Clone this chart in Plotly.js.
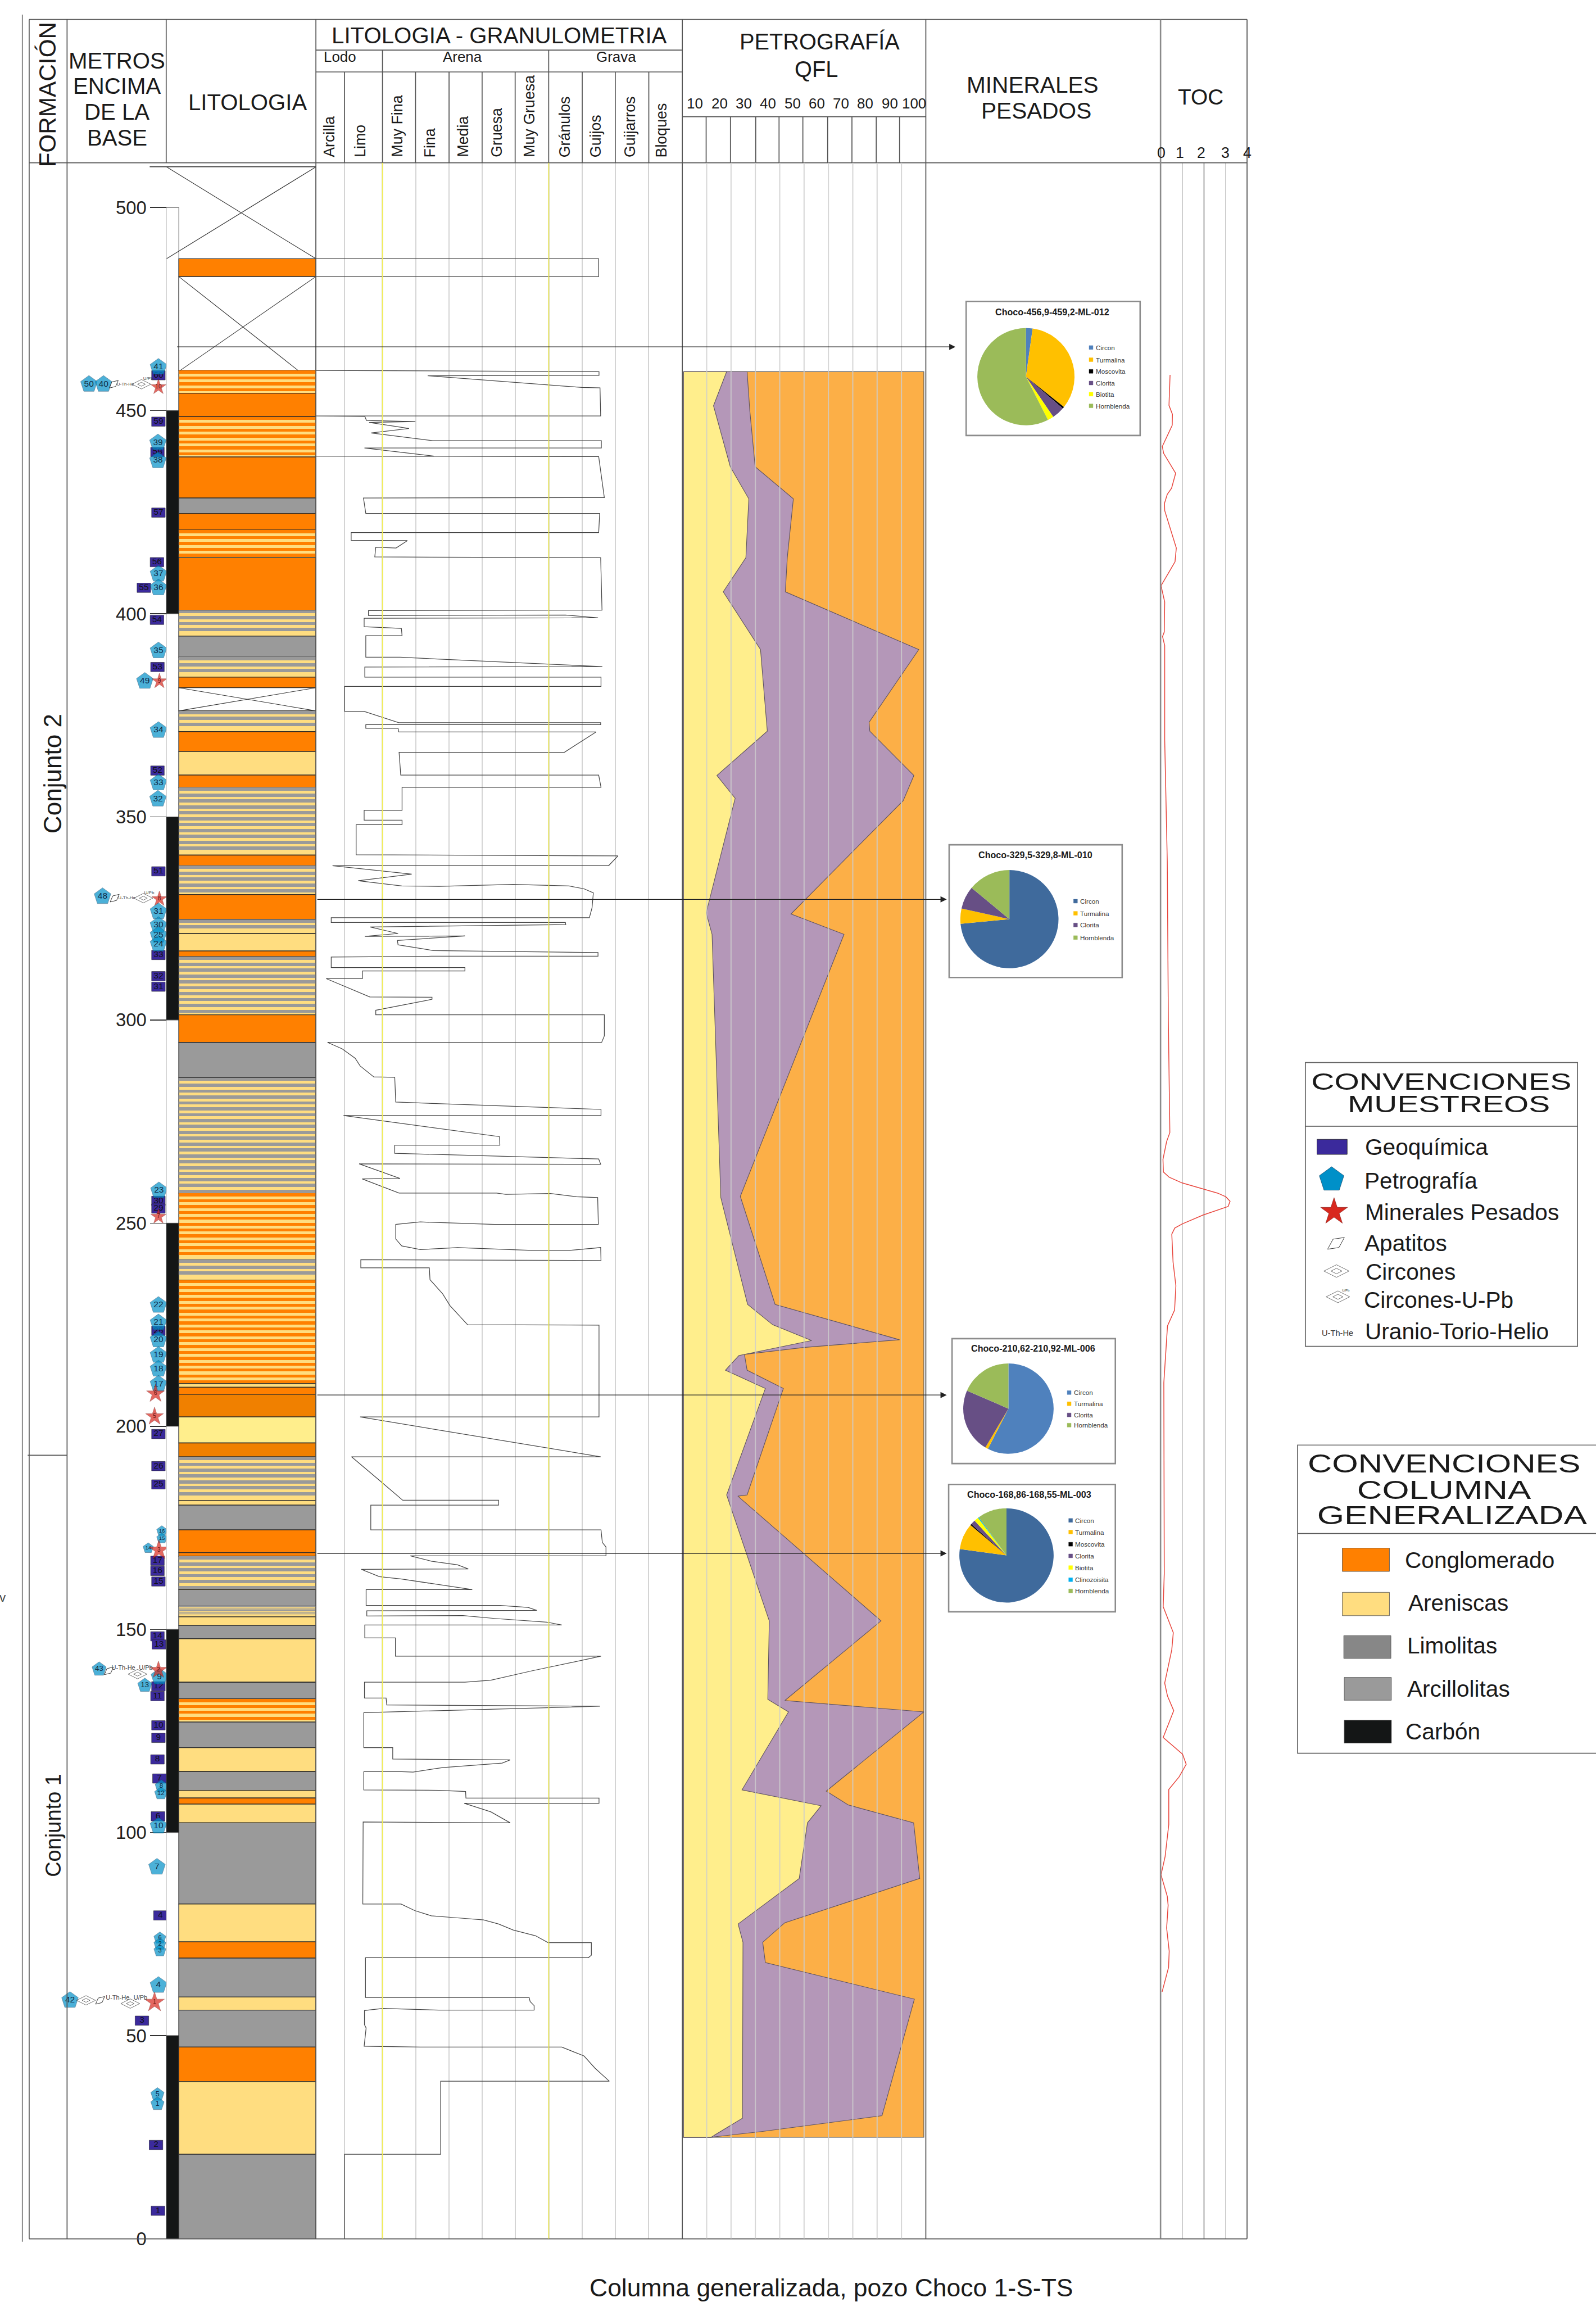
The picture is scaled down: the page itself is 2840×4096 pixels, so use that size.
<!DOCTYPE html>
<html><head><meta charset="utf-8">
<script src="https://cdn.plot.ly/plotly-3.0.1.min.js"></script>
<style>html,body{margin:0;padding:0;background:#fff}#g{width:2840px;height:4096px}</style>
</head><body><div id="g"></div>
<script>
// ---------- DATA ----------
const depthTicks=[0,50,100,150,200,250,300,350,400,450,500];
const bedTop =[487.4,483,459.9,454.3,448.5,438.6,428.5,424.7,420.6,413.8,400.9,394.5,389.3,384.4,381.8,376.1,371,366.1,360.3,357.2,340.6,338,330.9,324.8,321.3,317,315.6,301.3,294.5,285.8,257.4,241,236,210.5,209.6,207.9,202.3,195.9,192.5,181.7,180.6,174.5,168.9,168,159.8,155.7,153.1,151,147.7,137,132.9,127.2,120.9,115,110.4,108.5,107,102.4,82.4,73.1,69.1,59.5,56.3,47.2,38.7,20.8];
const bedBase=[483,459.9,454.3,448.5,438.6,428.5,424.7,420.6,413.8,400.9,394.5,389.3,384.4,381.8,376.1,371,366.1,360.3,357.2,340.6,338,330.9,324.8,321.3,317,315.6,301.3,294.5,285.8,257.4,241,236,210.5,209.6,207.9,202.3,195.9,192.5,181.7,180.6,174.5,168.9,168,159.8,155.7,153.1,151,147.7,137,132.9,127.2,120.9,115,110.4,108.5,107,102.4,82.4,73.1,69.1,59.5,56.3,47.2,38.7,20.8,0];
const bedKind=['O','X','OY','O','OY','O','G','O','OY','O','GY','G','GY','O','X','GY','O','Y','O','GY','O','GY','O','GY','Y','O','GY','O','G','GY','OY','GY','OY','Y','O','D','P','D','GY','Y','G','O','O','GY','G','GF','Y','G','Y','G','OY','G','Y','G','Y','O','Y','G','Y','O','G','Y','G','O','Y','G'];
const coalBandTop =[500,450,400,350,300,250,200,150,100,50];
const coalBandKind=['w','k','w','k','w','k','w','k','w','k'];

const grainClasses=['Arcilla','Limo','Muy Fina','Fina','Media','Gruesa','Muy Gruesa','Gránulos','Guijos','Guijarros','Bloques'];
const grainGrid=[0.86,2,3,4,5,6,7,8,9,10];
const grainBoxU=[0,8.5,8.5,0];
const grainBoxDepth=[487.4,487.4,483,483];
const grainU=[0,8.51,8.51,3.36,8,8.54,8.56,0,1.47,1.52,2.99,1.6,2.8,1.66,3.51,8.58,8.58,1.46,3.55,0,8.5,8.67,1.43,1.5,8.53,8.5,1.06,1.06,2.75,2.41,1.8,1.77,8.56,8.6,1.58,1.58,7.5,8.48,1.45,1.45,2.57,2.59,1.5,1.5,2.53,8.61,1.47,1.47,8.57,8.57,.86,.86,1.44,2.49,8.56,8.56,1.5,1.5,2.47,2.49,8.42,7.47,2.5,2.55,8.5,8.57,2.59,2.59,1.45,1.45,2.59,2.59,1.21,1.21,9.08,8.8,.5,2.88,
1.27,2.58,3.7,5.93,7.61,8.06,8.34,8.3,8.22,.46,.46,7.5,7.51,1.63,2.47,1.47,4.48,2.45,2.47,3.53,8.48,8.48,3.47,.46,.46,4.48,4.48,1.4,1.4,.31,1.62,3.49,3.49,1.8,1.8,8.67,8.67,8.59,.35,.79,1.18,1.33,1.74,2.37,2.4,8.57,8.57,.83,5.52,5.53,2.37,2.37,8.5,8.56,1.3,2.53,1.39,2.5,5.43,5.71,7.05,7.83,8.47,8.49,5.37,3.14,2.4,2.4,2.58,3.14,4.26,6.49,7.61,8.56,8.57,1.35,1.35,3.41,3.43,3.81,4.03,4.56,8.51,
8.51,1.33,8.56,1.07,1.91,2.3,2.61,5.49,5.49,1.65,1.65,8.57,8.61,8.72,8.72,2.84,3.47,4.26,4.58,1.36,1.91,2.58,4.7,1.51,1.51,5.54,6.38,6.64,1.53,1.53,4.42,5.37,6.94,7.39,1.47,1.47,2.39,2.39,8.57,6.49,5.26,4.48,1.46,1.46,2.11,2.13,8.54,1.44,1.44,2.31,2.31,5.84,5.6,3.81,2.92,2.58,1.44,1.44,3.7,4.5,4.51,8.51,8.51,4.46,5.26,5.84,1.42,
1.41,2.56,2.97,3.47,4.26,5.04,5.49,5.93,6.6,6.98,8.28,8.28,8.19,1.49,1.49,6.41,6.44,6.56,6.56,3.7,2.02,1.46,1.46,1.51,1.45,3.14,7.39,8.06,8.39,8.82,3.75,3.75,.86,.86];
const grainDepth=[459.9,459.6,458.7,458.6,455.7,455.6,448.7,448.7,448.6,447.6,447.3,447.1,445.6,444.5,442.6,442.6,440.8,440.8,438.8,438.8,438.7,428.6,428.5,424.7,424.7,420,420,418.1,418,416.2,416.4,414,413.8,400.9,400.8,399.6,399.7,399,398.9,396.8,396.4,394.6,394.6,389.3,389.3,387,386.9,384.4,384.4,382.1,382.1,376,376,373.2,373.2,372.7,372.7,371.8,371.8,370.9,370.9,365.9,365.9,360.3,360.3,357.3,357.3,351.6,351.6,349.2,349.2,348.1,348.1,340.7,340.4,338,338,335.9,
334.3,333,332.9,333.4,333,332.3,331.3,327.6,325.2,325.2,324,324,323.5,322.9,321.3,320.6,320.7,319.6,318.5,317.1,316.6,315.7,315.7,315.5,312.9,312.9,312.1,312.1,310.2,310.2,305.7,305.6,305.1,302.4,301.3,301.3,296.1,294.5,294.5,292.9,290.6,288.7,286,285.9,279.8,278,276.5,276.5,271.3,269.2,269.2,267.2,265.8,264.5,264.6,261,260.9,257.4,257.4,257.1,257.3,256.5,256.3,249.7,249.7,250.3,249.7,246.1,244.4,243.5,244,243.3,243.3,244,240.8,241,239,239,236.1,232.6,229.7,225,224.9,
202.3,202.3,192.5,192.5,186.7,184,181.8,181.8,180.6,180.6,174.5,174.5,171.4,170.3,168.1,168.1,166.8,165.9,164.9,164.8,163,162.4,159.8,159.8,155.9,155.9,155.4,154.7,154.6,153.3,153.4,152.7,151.8,151.1,151.1,147.9,147.9,143.4,143.4,139.8,137.5,137,137,133.1,133.1,131.4,131.1,129.5,120.9,120.9,118.1,117.9,117.1,116,114.9,115,115,110.5,110.4,110.1,108.5,108.5,107.2,107.2,105.1,102.4,102.6,
82.4,82.4,80.8,79.5,79,78.5,77.5,76,74.6,72.9,72.9,69.8,69.2,69.2,59.4,59.4,58.4,57.4,56.3,56.3,56.7,56.2,52.7,51.9,47.4,47.2,47.2,45,42,38.8,38.8,20.8,20.8,0];

const qflTicks=[10,20,30,40,50,60,70,80,90,100];
const quartzPct=[18.2,12.8,19.7,27.3,26.1,16.8,32.1,34.9,14.2,21.7,9.8,12.2,15.8,26.8,37.1,53.1,23.2,17.7,34.1,18.2,35.7,35.1,43.6,24.5,57,51.4,48,22.9,24.9,24.7,11.8];
const quartzDepth=[459.6,451.2,436.2,428.3,413.8,405.4,391.2,371.1,360.2,354.6,326.4,321.1,256.3,230,225,221.1,217.4,213.8,209.3,183.1,152.1,132.8,129.7,110.5,106.6,102.4,88.7,77.5,73,29.7,25];
const feldsparPct=[26.6,27.7,29.9,45.6,43.1,42.3,97.1,76.7,77,95.1,90.7,44.6,66.4,23.8,38.1,89.2,49.8,25.5,26.6,41.5,26.6,22.8,81.6,42.1,99.2,59.1,68.1,95,97.5,42.1,33,34.1,95.3,82,32.5,11.8];
const feldsparDepth=[459.6,450.1,436.2,428.3,413.8,405.4,391.2,373.3,371.1,360.2,354,326.1,321.1,256.6,230,221.3,219.4,217.7,213.8,209.3,183.1,182.8,152.1,132.5,129.7,110.2,106.8,102.4,88.7,77.8,73,68,59,30.3,26.4,25];
const qflDepthRange=[459.6,25];

const tocTicks=[0,1,2,3,4];
const tocValue=[.42,.37,.53,.52,.06,.12,.68,.49,.29,.16,.17,.71,.65,0,.17,.15,.07,.17,.17,.29,.34,.41,.26,.09,.11,.38,.98,1.95,2.63,3.01,3.21,3.12,1.95,.98,.64,.5,.56,.69,.63,.3,.13,.15,.1,.57,.5,.17,.3,.59,.1,1,1.17,.84,.36,.36,.19,0,.29,.33,.26,.38,.35,.05];
const tocDepth=[458.8,451.3,449.1,446.4,441.2,439.5,434.6,430.9,429.4,427.2,425.4,416.2,412.8,406.9,402.9,395.5,394.4,392.2,369,339,299.8,272.3,270.1,265.7,262.6,261.3,259.9,258.4,257.4,256.5,255.4,254.1,252,249.8,248.8,247.3,240.4,234.6,228.6,224.7,210.7,163.7,155.6,149.2,145,136.8,133.6,130,123.4,119.3,116.8,113.7,110.6,102,94.1,89.6,84.3,82.1,76.5,70.8,66.8,60.8];

const petroLabel=['41','50','40','39','38','37','36','35','49','34','33','32','48','31','30','25','24','23','22','21','20','19','18','17','16','15','14','43','9','13','8','12','10','7','6','2','3','4','42','5','1'];
const petroDepth=[460.7,456.5,456.5,442.1,437.7,409.8,406.4,390.9,383.4,371.3,358.4,354.4,330.4,326.7,323.3,320.9,318.7,258,229.8,225.5,221.3,217.5,214.1,210.4,174.2,172.4,170,140.2,138.3,136.2,111.4,109.6,101.6,91.5,74,72.5,70.9,62.4,58.7,35.5,33.2];
const petroLane=[326,183,213,325,325,326,326,326,298,326,326,325,211,326,326,326,326,327,326,326,326,326,326,326,333,333,305,204,328,298,332,331,326,323,329,329,329,326,144,324,324];
const petroScale=[1,1,1,1,1,1,1,1,1,1,1,1,1,1,1,1,1,1,1,1,1,1,1,1,.62,.62,.62,.85,1,.85,.75,.75,1,1,.72,.72,.72,1,1,.8,.8];

const geoLabel=['60','59','58','57','56','55','54','53','52','51','33','32','31','30','29','28','27','26','25','17','16','15','14','13','12','11','10','9','8','7','6','4','3','2','1'];
const geoDepth=[458.7,447.3,439.8,424.9,412.7,406.4,398.5,386.9,361.4,336.6,316,310.8,308.2,255.5,253.6,223.5,198.1,190.2,185.7,166.9,164.4,161.8,148.3,146.3,136,133.6,126.4,123.3,118,113.3,104,79.6,53.7,23.1,6.9];
const geoLane=[326,326,324,326,323,296,323,324,324,326,326,326,326,326,326,326,326,326,326,324,324,326,324,327,326,324,326,326,324,328,325,330,292,321,325];

const starLabel=['10','9','8','7','6','5','3','2','1'];
const starDepth=[455.8,383.4,329.8,251.6,208,202.4,169.5,140,58.2];
const starLane=[326,328,328,326,320,318,327,326,318];
const starScale=[.85,.85,.85,.85,1,1,1.1,.95,1.1];

const zirconDepth=[456.5,330,139,58.7,57.9];
const zirconLane=[291,295,283,177,268];
const apatiteDepth=[456.5,330,139.8,58.7];
const apatiteLane=[234,236,224,206];
const dateLabel=['U-Th-He','U/Pb','U-Th-He','U/Pb','U-Th-He','U/Pb','U-Th-He','U/Pb'];
const dateDepth=[456.4,457.8,330,331.2,140.4,140.5,59.2,59.3];
const dateLane=[258,305,261,307,254,300,242,289];

const pieTitles=['Choco-456,9-459,2-ML-012','Choco-329,5-329,8-ML-010','Choco-210,62-210,92-ML-006','Choco-168,86-168,55-ML-003'];
const pieNames=[['Circon','Turmalina','Moscovita','Clorita','Biotita','Hornblenda'],['Circon','Turmalina','Clorita','Hornblenda'],['Circon','Turmalina','Clorita','Hornblenda'],['Circon','Turmalina','Moscovita','Clorita','Biotita','Clinozoisita','Hornblenda']];
const pieValues=[[2.2,33.5,.6,4.2,2,57.5],[73.5,5,7.5,14],[57.5,1,23,18.5],[77,9,.4,1.6,1.5,.3,10]];
const pieColors={Turmalina:'#ffc000',Moscovita:'#000000',Clorita:'#674f85',Biotita:'#ffff00',Clinozoisita:'#00b0f0',Hornblenda:'#9bbb59'};
const pieCircon=['#4f81bd','#3f6a9c','#4f81bd','#3f6a9c'];
const arrowDepth=[465.7,329.7,207.7,168.7];

// ---------- GEOMETRY OF THE SHEET (reference pixels) ----------
const RW=3284,RH=4736,S=0.864,FONT='"Liberation Sans",Arial,sans-serif';
const X=v=>v/RW, Y=v=>1-v/RH;
const dom=(a,b)=>[a/RW,b/RW];
const shapes=[],ann=[];
function line(x0,y0,x1,y1,color,w,layer){shapes.push({type:'line',xref:'paper',yref:'paper',x0:X(x0),x1:X(x1),y0:Y(y0),y1:Y(y1),line:{color:color||'#555',width:(w||2)*S},layer:layer||'above'});}
function rect(x0,y0,x1,y1,fill,lc,w){shapes.push({type:'rect',xref:'paper',yref:'paper',x0:X(x0),x1:X(x1),y0:Y(y0),y1:Y(y1),fillcolor:fill||'rgba(0,0,0,0)',line:{color:lc||'#888',width:(w||2)*S},layer:'below'});}
function text(t,x,y,size,o){o=o||{};ann.push(Object.assign({xref:'paper',yref:'paper',x:X(x),y:Y(y),text:t,showarrow:false,xanchor:o.anchor||'center',yanchor:'middle',textangle:o.angle||0,font:{family:FONT,size:size*S,color:o.color||'#1a1a1a',weight:o.bold?700:400}}));}

// frame
[[40,60,2566],[335,60,2566],[4606,60,2566],[103,650,1403],[148,650,1403],[240,1404,1905]].forEach(a=>line(a[1],a[0],a[2],a[0]));
[[60,40,4606],[138,40,4606],[342,40,335],[650,40,4606],[1404,40,4606],[1905,40,4606],[2566,40,4606]].forEach(a=>line(a[0],a[1],a[0],a[2]));
line(2388,40,2388,4606,'#8a8a8a',3);
line(46,30,46,4612,'#777',2);
line(57,2994,138,2994);
[787,1129].forEach(x=>line(x,103,x,335));
[709,855,924,992,1060,1198,1266,1335].forEach(x=>line(x,148,x,335));
[1453,1503,1555,1603,1652,1703,1753,1803,1851].forEach(x=>line(x,240,x,335));
line(308,343,650,343,'#444',2);

// header
text('FORMACIÓN',98,194,49,{angle:-90});
['METROS','ENCIMA','DE LA','BASE'].forEach((t,i)=>text(t,241,125+53*i,46.5));
text('LITOLOGIA',509,211,46.5);
text('LITOLOGIA - GRANULOMETRIA',1027,73,46.6);
text('Lodo',700,117,30);text('Arena',952,117,30);text('Grava',1268,117,30);
const classX=[678,741,817,884,953,1022,1089,1163,1226,1297,1361];
grainClasses.forEach((c,i)=>ann.push({xref:'paper',yref:'paper',x:X(classX[i]),y:Y(326),text:c,showarrow:false,textangle:-90,xanchor:'center',yanchor:'bottom',font:{family:FONT,size:31*S,color:'#1a1a1a'}}));
text('PETROGRAFÍA',1687,86,46);text('QFL',1680,142,46);
text('MINERALES',2125,175,47);text('PESADOS',2132,228,47);
text('TOC',2471,199,45);
qflTicks.forEach(t=>ann.push({xref:'x3',yref:'paper',x:t-4.8,y:Y(213),text:String(t),showarrow:false,xanchor:'center',yanchor:'middle',font:{family:FONT,size:30*S,color:'#1a1a1a'}}));
tocTicks.forEach(t=>ann.push({xref:'x4',yref:'paper',x:t-(t>0&&t<3?.12:0),y:Y(314),text:String(t),showarrow:false,xanchor:'center',yanchor:'middle',font:{family:FONT,size:31*S,color:'#1a1a1a'}}));
text('Conjunto 2',109,1592,51,{angle:-90});
text('Conjunto 1',109,3755,44,{angle:-90});
text('Columna generalizada, pozo Choco 1-S-TS',1711,4706,51.5);
text('v',6,3287,26,{color:'#444'});

// pie boxes and legends
const pieBox=[[1988,620,2346,896],[1953,1738,2309,2011],[1959,2754,2295,3011],[1952,3054,2295,3316]];
const pieCentre=[[2111,775,100],[2077,1891,101],[2075,2898,93],[2071,3200,97]];
const pieTitleAt=[[2165,642],[2130,1759],[2126,2774],[2118,3075]];
const pieLegend=[[2245,[715,740,764,788,811,835]],[2213,[1854,1879,1903,1929]],[2200,[2865,2888,2911,2932]],[2203,[3128,3152,3177,3201,3225,3250,3273]]];
const arrowTip=[1966,1948,1948,1948], arrowTail=[361,650,650,650];
pieBox.forEach(b=>rect(b[0],b[1],b[2],b[3],'#ffffff','#8c8c8c',3));
pieTitles.forEach((t,i)=>text(t,pieTitleAt[i][0],pieTitleAt[i][1],18.7,{bold:true}));
function pieCol(i,n){return n==='Circon'?pieCircon[i]:pieColors[n];}
pieNames.forEach((names,i)=>names.forEach((n,k)=>{
  const lx=pieLegend[i][0],ly=pieLegend[i][1][k];
  rect(lx-4,ly-4,lx+4,ly+4,pieCol(i,n),pieCol(i,n),.5);
  text(n,lx+7,ly,13.5,{anchor:'left',color:'#333'});
}));
arrowDepth.forEach((d,i)=>ann.push({xref:'paper',yref:'y',x:X(arrowTip[i]),y:d,ax:-(arrowTip[i]-arrowTail[i])*S,ay:0,showarrow:true,arrowhead:2,arrowsize:1.7,arrowwidth:1.3,arrowcolor:'#222',standoff:0,text:''}));

// legends
rect(2686,2186,3246,2770,'#ffffff','#666',2); line(2686,2317,3246,2317,'#555',2,'below');
const stretch={};
function wide(t,x,y,size,w){text(t,x,y,size);stretch[t]=w*S;}
wide('CONVENCIONES',2966,2225,49,536);
wide('MUESTREOS',2981,2272,49,417);
rect(2710,2344,2772,2375,'#3b2a9c','#222',1);
[['Geoquímica',2807,2360],['Petrografía',2805,2429],['Minerales Pesados',2807,2494],['Apatitos',2805,2558],['Circones',2808,2617],['Circones-U-Pb',2804,2674],['Uranio-Torio-Helio',2806,2739]].forEach(a=>text(a[0],a[1],a[2],47,{anchor:'left'}));
text('U-Th-He',2752,2743,17,{color:'#333'});
text('U/Pb',2769,2655,7,{color:'#333'});
rect(2670,2973,3290,3607,'#ffffff','#666',2); line(2670,3155,3284,3155,'#555',2,'below');
wide('CONVENCIONES ',2981,3011,53,581);
wide('COLUMNA',2971,3066,53,358);
wide('GENERALIZADA',2988,3118,53,556);
[['Conglomerado',2889,3210,'#ff8000',2762,3185,3233],['Areniscas',2895,3298,'#ffdd80',2762,3276,3324],['Limolitas',2893,3385,'#878787',2765,3365,3412],['Arcillolitas',2893,3475,'#9a9a9a',2766,3451,3498],['Carbón',2890,3562,'#141616',2766,3539,3586]].forEach(a=>{
  rect(a[4],a[5],a[4]+97,a[6],a[3],'#555',1);
  text(a[0],a[1],a[2],47,{anchor:'left'});
});

// grids that must lie over the QFL fill, and the two yellow class limits
qflTicks.slice(0,9).forEach(t=>shapes.push({type:'line',xref:'x3',yref:'paper',x0:t,x1:t,y0:Y(335),y1:Y(4606),line:{color:'rgba(205,205,205,.8)',width:2.4*S},layer:'above'}));
[2,7].forEach(u=>shapes.push({type:'line',xref:'x2',yref:'paper',x0:u,x1:u,y0:Y(335),y1:Y(4606),line:{color:'#f4f052',width:1.8*S},layer:'above'}));

// ---------- TRACES ----------
const col={O:'#ff8000',Y:'#ffdd80',G:'#9a9a9a',P:'#ffee8c',D:'#f08000',X:'#ffffff'};
const fillOf=k=>k==='OY'||k==='GY'||k==='GF'?col.Y:col[k];
const mid=(a,b)=>(a+b)/2;
const traces=[];
// sampling strip (white/black metre bands)
traces.push({type:'bar',orientation:'h',xaxis:'x',yaxis:'y',y:coalBandTop.map(t=>t-25),x:coalBandTop.map(()=>.092),base:coalBandTop.map(()=>-.092),width:coalBandTop.map(()=>50),marker:{color:coalBandKind.map(k=>k==='k'?'#141616':'#ffffff'),line:{color:'#555',width:1}}});
// beds
traces.push({type:'bar',orientation:'h',xaxis:'x',yaxis:'y',y:bedTop.map((t,i)=>mid(t,bedBase[i])),x:bedTop.map(()=>1),base:bedTop.map(()=>0),width:bedTop.map((t,i)=>t-bedBase[i]),marker:{color:bedKind.map(fillOf),line:{color:'#2a2a2a',width:1.3}}});
// interbedding stripes
const sy=[],sw=[],sc=[];
bedKind.forEach((k,i)=>{
  if(k!=='OY'&&k!=='GY'&&k!=='GF')return;
  const period=k==='GF'?.5:1.45;
  for(let m=bedTop[i]-period*.28;m-period*.25>bedBase[i];m-=period){sy.push(m);sw.push(period*(k==='GY'?.56:.52));sc.push(k==='OY'?col.O:col.G);}
});
traces.push({type:'bar',orientation:'h',xaxis:'x',yaxis:'y',y:sy,x:sy.map(()=>.998),base:sy.map(()=>.001),width:sw,marker:{color:sc,line:{width:0}}});
// crossed boxes without recovery
traces.push({type:'scatter',mode:'lines',xaxis:'x',yaxis:'y',x:[-.089,1,null,1,-.089,null,0,.87,null,1,.01,null,0,1,null,0,1,null,1,1],y:[510,487.4,null,510,487.4,null,483,459.9,null,483,459.9,null,376.1,381.8,null,381.8,376.1,null,510,487.4],line:{color:'#333',width:1.1}});
// grain-size log
traces.push({type:'scatter',mode:'lines',xaxis:'x2',yaxis:'y',x:grainBoxU.concat([grainBoxU[0],null],grainU),y:grainBoxDepth.concat([grainBoxDepth[0],null],grainDepth),line:{color:'#444',width:1.25}});
// QFL
const edge=.5,right=99.2;
traces.push({type:'scatter',mode:'lines',xaxis:'x3',yaxis:'y',x:[edge,right,right,edge,edge],y:[qflDepthRange[0],qflDepthRange[0],qflDepthRange[1],qflDepthRange[1],qflDepthRange[0]],fill:'toself',fillcolor:'#fcaf47',line:{color:'#555',width:1.2}});
traces.push({type:'scatter',mode:'lines',xaxis:'x3',yaxis:'y',x:[edge].concat(feldsparPct,[edge,edge]),y:[qflDepthRange[0]].concat(feldsparDepth,[qflDepthRange[1],qflDepthRange[0]]),fill:'toself',fillcolor:'#b497b8',line:{color:'#5c5260',width:1.1}});
traces.push({type:'scatter',mode:'lines',xaxis:'x3',yaxis:'y',x:[edge].concat(quartzPct,[edge,edge]),y:[qflDepthRange[0]].concat(quartzDepth,[qflDepthRange[1],qflDepthRange[0]]),fill:'toself',fillcolor:'#ffee8c',line:{color:'#5c5260',width:1.1}});
// TOC
traces.push({type:'scatter',mode:'lines',xaxis:'x4',yaxis:'y',x:tocValue,y:tocDepth,line:{color:'#e8453c',width:1.5}});
// sampling marks
traces.push({type:'bar',orientation:'h',xaxis:'x5',yaxis:'y',y:geoDepth,x:geoLane.map(()=>28),base:geoLane.map(l=>l-14),width:geoLane.map(()=>2.3),marker:{color:'#3b2a9c',line:{color:'#222',width:.6}}});
traces.push({type:'scatter',mode:'text',xaxis:'x5',yaxis:'y',x:geoLane,y:geoDepth,text:geoLabel,textposition:'middle center',textfont:{family:FONT,size:15.5,color:'#111'}});
traces.push({type:'scatter',mode:'markers+text',xaxis:'x5',yaxis:'y',x:petroLane,y:petroDepth,text:petroLabel,textposition:'middle center',textfont:{family:FONT,size:petroScale.map(s=>15.5*s),color:'#102a44'},marker:{symbol:'pentagon',size:petroScale.map(s=>31*s),color:'#0090c8',line:{color:'#1b4f72',width:.8}}});
traces.push({type:'scatter',mode:'markers+text',xaxis:'x5',yaxis:'y',x:starLane,y:starDepth,text:starLabel,textposition:'middle center',textfont:{family:FONT,size:10,color:'#5a0d0a'},marker:{symbol:'star',size:starScale.map(s=>24*s),color:'#d8281e',line:{color:'#7a1610',width:.6}}});
traces.push({type:'scatter',mode:'markers',xaxis:'x5',yaxis:'y',x:zirconLane.concat(zirconLane),y:zirconDepth.concat(zirconDepth),marker:{symbol:'diamond-wide-open',size:zirconLane.map(()=>24).concat(zirconLane.map(()=>10)),color:'#333',line:{color:'#222',width:1}}});
traces.push({type:'scatter',mode:'markers',xaxis:'x5',yaxis:'y',x:apatiteLane,y:apatiteDepth,marker:{symbol:'diamond-tall-open',size:15,angle:50,color:'#333',line:{color:'#222',width:1}}});
traces.push({type:'scatter',mode:'text',xaxis:'x5',yaxis:'y',x:dateLane,y:dateDepth,text:dateLabel,textposition:'middle center',textfont:{family:FONT,size:dateLabel.map((t,i)=>i<4?8:11),color:'#444'}});
// legend symbols, on a sheet-sized overlay axis
traces.push({type:'scatter',mode:'markers',xaxis:'x6',yaxis:'y2',x:[2740],y:[2427],marker:{symbol:'pentagon',size:46,color:'#0090c8',line:{color:'#1b4f72',width:.8}}});
traces.push({type:'scatter',mode:'markers',xaxis:'x6',yaxis:'y2',x:[2745],y:[2493],marker:{symbol:'star',size:36,color:'#d8281e',line:{color:'#7a1610',width:.6}}});
traces.push({type:'scatter',mode:'markers',xaxis:'x6',yaxis:'y2',x:[2749],y:[2558],marker:{symbol:'diamond-tall-open',size:26,angle:55,color:'#333',line:{color:'#222',width:1}}});
traces.push({type:'scatter',mode:'markers',xaxis:'x6',yaxis:'y2',x:[2750,2750,2753,2753],y:[2615,2615,2668,2668],marker:{symbol:'diamond-wide-open',size:[32,14,30,13],color:'#333',line:{color:'#222',width:1}}});
// mineral pies
pieNames.forEach((names,i)=>{
  const c=pieCentre[i];
  traces.push({type:'pie',labels:names,values:pieValues[i],sort:false,direction:'clockwise',rotation:0,textinfo:'none',hoverinfo:'none',showlegend:false,automargin:false,
    marker:{colors:names.map(n=>pieCol(i,n)),line:{width:0}},
    domain:{x:[X(c[0]-c[2]),X(c[0]+c[2])],y:[Y(c[1]+c[2]),Y(c[1]-c[2])]}});
});

const hidden={showgrid:false,zeroline:false,showticklabels:false,ticks:'',showline:false,fixedrange:true};
const layout={width:2840,height:4096,margin:{l:0,r:0,t:0,b:0,pad:0},paper_bgcolor:'#ffffff',plot_bgcolor:'rgba(0,0,0,0)',showlegend:false,barmode:'overlay',bargap:0,hovermode:false,
  xaxis:Object.assign({},hidden,{domain:dom(342,650),range:[-.092,1],anchor:'y'}),
  xaxis2:Object.assign({},hidden,{domain:dom(650,1403),range:[0,11],anchor:'y',showgrid:true,tickmode:'array',tickvals:grainGrid,gridcolor:'#d4d4d4',gridwidth:2.4*S}),
  xaxis3:Object.assign({},hidden,{domain:dom(1404,1905),range:[0,100],anchor:'y'}),
  xaxis4:Object.assign({},hidden,{domain:dom(2389,2566),range:[0,4],anchor:'y',showgrid:true,tickmode:'array',tickvals:[1,2,3],gridcolor:'#cfcfcf',gridwidth:2.4*S}),
  xaxis5:Object.assign({},hidden,{domain:dom(60,342),range:[60,342],anchor:'y'}),
  xaxis6:Object.assign({},hidden,{domain:[0,1],range:[0,RW],anchor:'y2'}),
  yaxis:{domain:[(RH-4606)/RH,(RH-335)/RH],range:[0,511],anchor:'free',position:X(342),side:'left',tickmode:'array',tickvals:depthTicks,ticks:'outside',ticklen:33*S,tickwidth:1.5,tickcolor:'#333',tickfont:{family:FONT,size:38*S,color:'#222'},showgrid:false,zeroline:false,showline:false,fixedrange:true},
  yaxis2:Object.assign({},hidden,{domain:[0,1],range:[RH,0],anchor:'x6'}),
  shapes:shapes,annotations:ann};
Plotly.newPlot('g',traces,layout,{staticPlot:true,displayModeBar:false}).then(()=>{
  // the legend headings are drawn horizontally stretched
  document.querySelectorAll('text.annotation-text').forEach(t=>{
    const c=t.textContent; const el=t;
    const w=stretch[c]||(c==='CONVENCIONES'&&el.getBoundingClientRect().top>2300?stretch['CONVENCIONES ']:null);
    if(w){el.setAttribute('textLength',w);el.setAttribute('lengthAdjust','spacingAndGlyphs');}
  });
});
</script></body></html>
